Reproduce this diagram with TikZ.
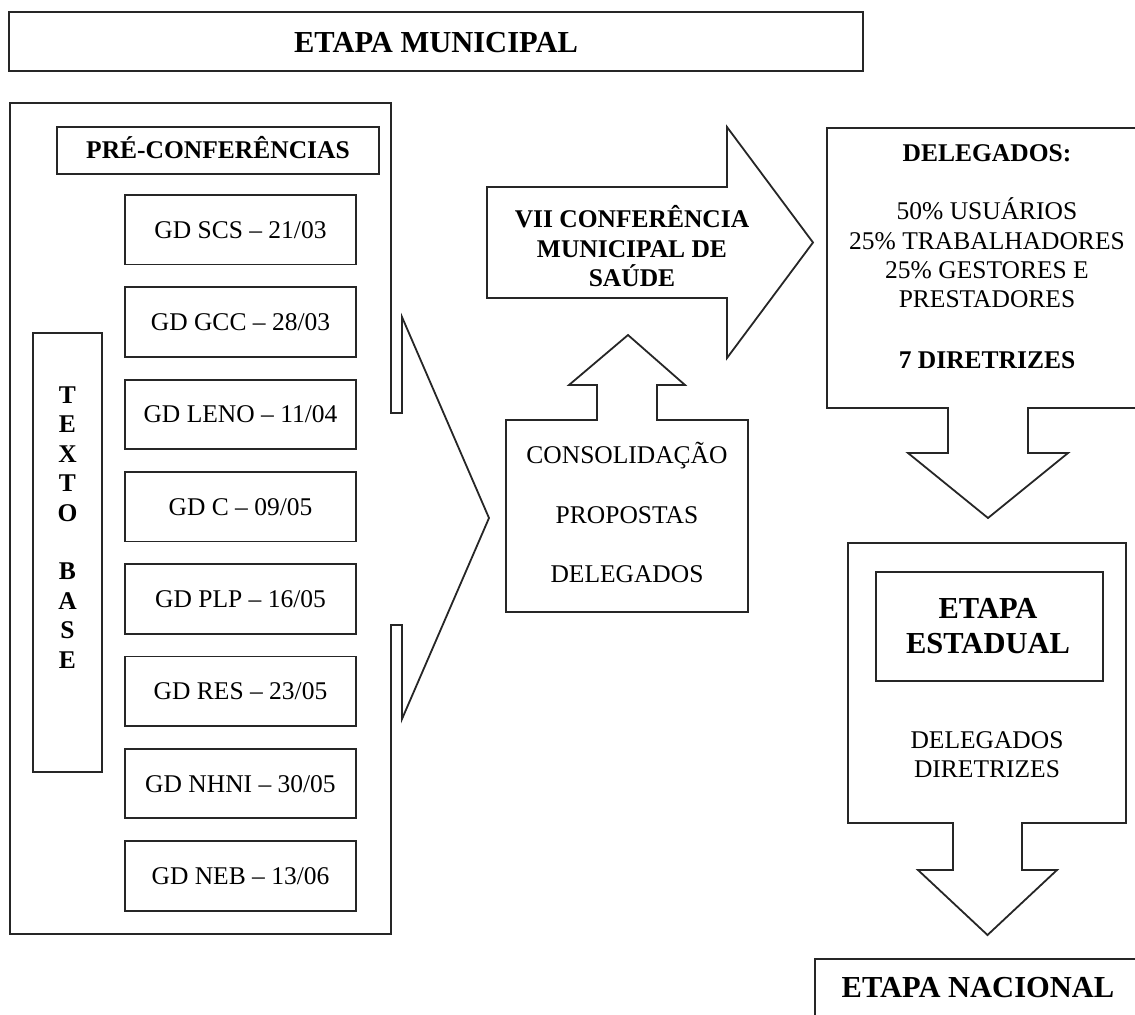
\documentclass[tikz,border=0pt]{standalone}
\usepackage{fontspec}
\setmainfont{Liberation Serif}

\newcommand{\txtfont}{\fontsize{12.75}{14.7}\selectfont}
\newcommand{\bigfont}{\fontsize{15.25}{17.5}\selectfont\bfseries}

\begin{document}
\begin{tikzpicture}[x=0.5pt, y=-0.5pt,
  frame/.style={draw=black!85, line width=0.9pt, line join=miter},
  gdbox/.style={frame, minimum width=115.5pt, minimum height=34.75pt, inner sep=0pt, text height=8.45pt, text depth=0pt},
  lbl/.style={inner sep=0pt, text height=8.45pt, text depth=0pt},
  bold/.style={font=\txtfont\bfseries},
  large/.style={font=\bigfont, text height=10.1pt},
  every node/.style={font=\txtfont}
]
\clip (0,0) rectangle (1135,1014);
\useasboundingbox (0,0) rectangle (1135,1014);

% Top: municipal stage
\draw[frame] (9,12) rectangle (863,71);
\node[lbl, large] (municipal) at (436,42) {ETAPA MUNICIPAL};

% Left block with arrow head
\draw[frame] (391,103) -- (10,103) -- (10,934) -- (391,934) -- (391,625)
  -- (402,625) -- (402,719) -- (489,518) -- (402,317) -- (402,413) -- (391,413) -- cycle;
\node[gdbox, bold, minimum width=161pt, minimum height=23.5pt] (preconf) at (218,150.5) {PRÉ-CONFERÊNCIAS};

% Texto base
\draw[frame] (33,333) rectangle (102,772);
\foreach \l/\k in {T/0,E/1,X/2,T/3,O/4,B/6,A/7,S/8,E/9}
  \node[lbl, bold] (tb\k) at (67.5,395+\k*29.4) {\l};

% Discussion groups
\foreach \g [count=\i] in {SCS – 21/03, GCC – 28/03, LENO – 11/04, C – 09/05,
                           PLP – 16/05, RES – 23/05, NHNI – 30/05, NEB – 13/06}
  \node[gdbox] (gd\i) at (240.5,229.75+\i*92.3-92.3) {GD \g};

% Conference arrow
\draw[frame] (487,187) -- (727,187) -- (727,127) -- (813,242.5) -- (727,358)
  -- (727,298) -- (487,298) -- cycle;
\foreach \t [count=\i] in {VII CONFERÊNCIA, MUNICIPAL DE, SAÚDE}
  \node[lbl, bold] (conf\i) at (632,219.5+\i*29.3-29.3) {\t};

% Consolidation box with up arrow
\draw[frame] (506,420) -- (597,420) -- (597,385) -- (569,385) -- (628,335)
  -- (685,385) -- (657,385) -- (657,420) -- (748,420) -- (748,612) -- (506,612) -- cycle;
\foreach \t [count=\i] in {CONSOLIDAÇÃO, PROPOSTAS, DELEGADOS}
  \node[lbl] (cons\i) at (627,455.5+\i*59.5-59.5) {\t};

% Delegates box with down arrow
\draw[frame] (827,128) -- (1150,128) -- (1150,408) -- (1028,408) -- (1028,453)
  -- (1068,453) -- (988,518) -- (908,453) -- (948,453) -- (948,408) -- (827,408) -- cycle;
\node[lbl, bold] (deltitle) at (987,153.5) {DELEGADOS:};
\foreach \t [count=\i] in {50\% USUÁRIOS, 25\% TRABALHADORES, 25\% GESTORES E, PRESTADORES}
  \node[lbl] (del\i) at (987,211.5+\i*29.3-29.3) {\t};
\node[lbl, bold] (diretrizes) at (987,360.5) {7 DIRETRIZES};

% State stage with down arrow
\draw[frame] (848,543) -- (1126,543) -- (1126,823) -- (1022,823) -- (1022,870)
  -- (1057,870) -- (987.5,935) -- (918,870) -- (953,870) -- (953,823) -- (848,823) -- cycle;
\draw[frame] (876,572) rectangle (1103,681);
\node[lbl, large] (est1) at (988,608.5) {ETAPA};
\node[lbl, large] (est2) at (988,643.5) {ESTADUAL};
\node[lbl] (est3) at (987,740) {DELEGADOS};
\node[lbl] (est4) at (987,769) {DIRETRIZES};

% National stage
\draw[frame] (815,959) rectangle (1145,1040);
\node[lbl, large] (nacional) at (978,987.5) {ETAPA NACIONAL};

\end{tikzpicture}
\end{document}
